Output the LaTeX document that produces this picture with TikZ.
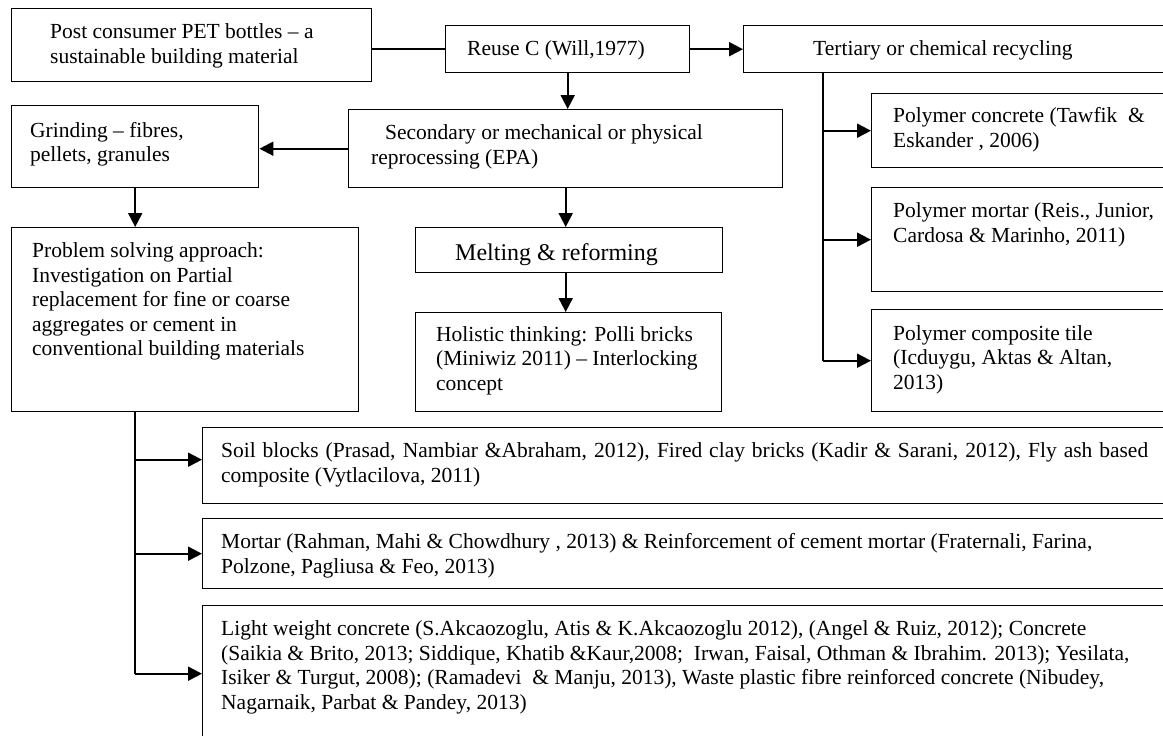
\documentclass[tikz,border=0pt]{standalone}
\usepackage{fontspec}
\setmainfont{Liberation Serif}
\usetikzlibrary{arrows.meta}

\tikzset{
  box/.style={draw, line width=1.4pt, anchor=north west, inner sep=0pt},
  txt/.style={anchor=north west, align=left, inner sep=0pt, font=\fontsize{21.5}{24.5}\selectfont},
  link/.style={line width=2pt},
  arr/.style={link, -{Triangle[length=14pt,width=14pt]}}
}

\begin{document}
\begin{tikzpicture}[x=1pt, y=-1pt]
\useasboundingbox (0,0) rectangle (1163,736);
\clip (0,0) rectangle (1163,736);

% Top row
\node[box, minimum width=360pt, minimum height=73pt] (post) at (11,8) {};
\node[txt] (post-t) at ([xshift=39pt, yshift=-15.5pt]post.north west) {Post consumer PET bottles -- a\\sustainable building material};
\node[box, minimum width=244pt, minimum height=47pt] (reuse) at (445,25) {};
\node[txt] (reuse-t) at ([xshift=22pt, yshift=-15.5pt]reuse.north west) {Reuse C (Will,1977)};
\node[box, minimum width=460pt, minimum height=47pt] (tert) at (743,25) {};
\node[txt] (tert-t) at ([xshift=70pt, yshift=-15.5pt]tert.north west) {Tertiary or chemical recycling};

% Mechanical branch
\node[box, minimum width=434pt, minimum height=78pt] (sec) at (348,109) {};
\node[txt] (sec-t) at ([xshift=23pt, yshift=-15.5pt]sec.north west) {\hspace*{14pt}Secondary or mechanical or physical\\reprocessing (EPA)};
\node[box, minimum width=247pt, minimum height=82pt] (grind) at (11,105) {};
\node[txt] (grind-t) at ([xshift=19pt, yshift=-17pt]grind.north west) {Grinding -- fibres,\\pellets, granules};
\node[box, minimum width=347pt, minimum height=184pt] (prob) at (11,227) {};
\node[txt] (prob-t) at ([xshift=21pt, yshift=-15.5pt]prob.north west) {Problem solving approach:\\Investigation on Partial\\replacement for fine or coarse\\aggregates or cement in\\conventional building materials};
\node[box, minimum width=307pt, minimum height=45pt] (melt) at (415,227) {};
\node[txt, font=\fontsize{24}{28}\selectfont] (melt-t) at ([xshift=40pt, yshift=-16.5pt]melt.north west) {Melting \& reforming};
\node[box, minimum width=306pt, minimum height=99pt] (holi) at (415,312) {};
\node[txt] (holi-t) at ([xshift=21pt, yshift=-14pt]holi.north west) {Holistic thinking: Polli bricks\\(Miniwiz 2011) -- Interlocking\\concept};

% Chemical branch
\node[box, minimum width=340pt, minimum height=74pt] (conc) at (871,93) {};
\node[txt] (conc-t) at ([xshift=22pt, yshift=-14.5pt]conc.north west) {Polymer concrete (Tawfik~ \&\\Eskander , 2006)};
\node[box, minimum width=340pt, minimum height=104pt] (mort) at (871,187) {};
\node[txt] (mort-t) at ([xshift=22pt, yshift=-15.5pt]mort.north west) {Polymer mortar (Reis., Junior,\\Cardosa \& Marinho, 2011)};
\node[box, minimum width=340pt, minimum height=102pt] (tile) at (871,309) {};
\node[txt] (tile-t) at ([xshift=22pt, yshift=-16pt]tile.north west) {Polymer composite tile\\(Icduygu, Aktas \& Altan,\\2013)};

% Applications
\node[box, minimum width=1000pt, minimum height=76pt] (soil) at (202,427) {};
\node[txt] (soil-t) at ([xshift=19pt, yshift=-15.5pt]soil.north west) {\makebox[927pt][s]{Soil blocks (Prasad, Nambiar \&Abraham, 2012), Fired clay bricks (Kadir \& Sarani, 2012), Fly ash based}\\composite (Vytlacilova, 2011)};
\node[box, minimum width=1000pt, minimum height=70pt] (mortar) at (202,518) {};
\node[txt] (mortar-t) at ([xshift=19pt, yshift=-15.5pt]mortar.north west) {Mortar (Rahman, Mahi \& Chowdhury , 2013) \& Reinforcement of cement mortar (Fraternali, Farina,\\Polzone, Pagliusa \& Feo, 2013)};
\node[box, minimum width=1000pt, minimum height=136pt] (light) at (202,605) {};
\node[txt] (light-t) at ([xshift=19pt, yshift=-15.5pt]light.north west) {Light weight concrete (S.Akcaozoglu, Atis \& K.Akcaozoglu 2012), (Angel \& Ruiz, 2012); Concrete\\(Saikia \& Brito, 2013; Siddique, Khatib \&Kaur,2008;~ Irwan, Faisal, Othman \& Ibrahim. 2013); Yesilata,\\Isiker \& Turgut, 2008); (Ramadevi~ \& Manju, 2013), Waste plastic fibre reinforced concrete (Nibudey,\\Nagarnaik, Parbat \& Pandey, 2013)};

% Connectors
\draw[link] (post.east |- reuse.west) -- (reuse.west);
\draw[arr] (reuse.east) -- (tert.west);
\draw[arr] (reuse.south) -- (reuse.south |- sec.north);
\draw[arr] (sec.west) -- (sec.west -| grind.east);
\draw[arr] (grind.south) -- (grind.south |- prob.north);
\draw[arr] (sec.south) -- (sec.south |- melt.north);
\draw[arr] (melt.south -| sec.south) -- (holi.north -| sec.south);

% Tertiary trunk
\coordinate (tr) at ([xshift=80pt]tert.south west);
\draw[link] (tr) -- (tr |- tile.west);
\draw[arr] (tr |- conc.west) -- (conc.west);
\draw[arr] (tr |- mort.west) -- (mort.west);
\draw[arr] (tr |- tile.west) -- (tile.west);

% Problem trunk
\coordinate (pt) at (grind.south |- prob.south);
\draw[link] (pt) -- (pt |- light.west);
\draw[arr] (pt |- soil.west) ++(0,-6) -- ([yshift=6pt]soil.west);
\draw[arr] (pt |- mortar.west) -- (mortar.west);
\draw[arr] (pt |- light.west) -- (light.west);
\end{tikzpicture}
\end{document}
